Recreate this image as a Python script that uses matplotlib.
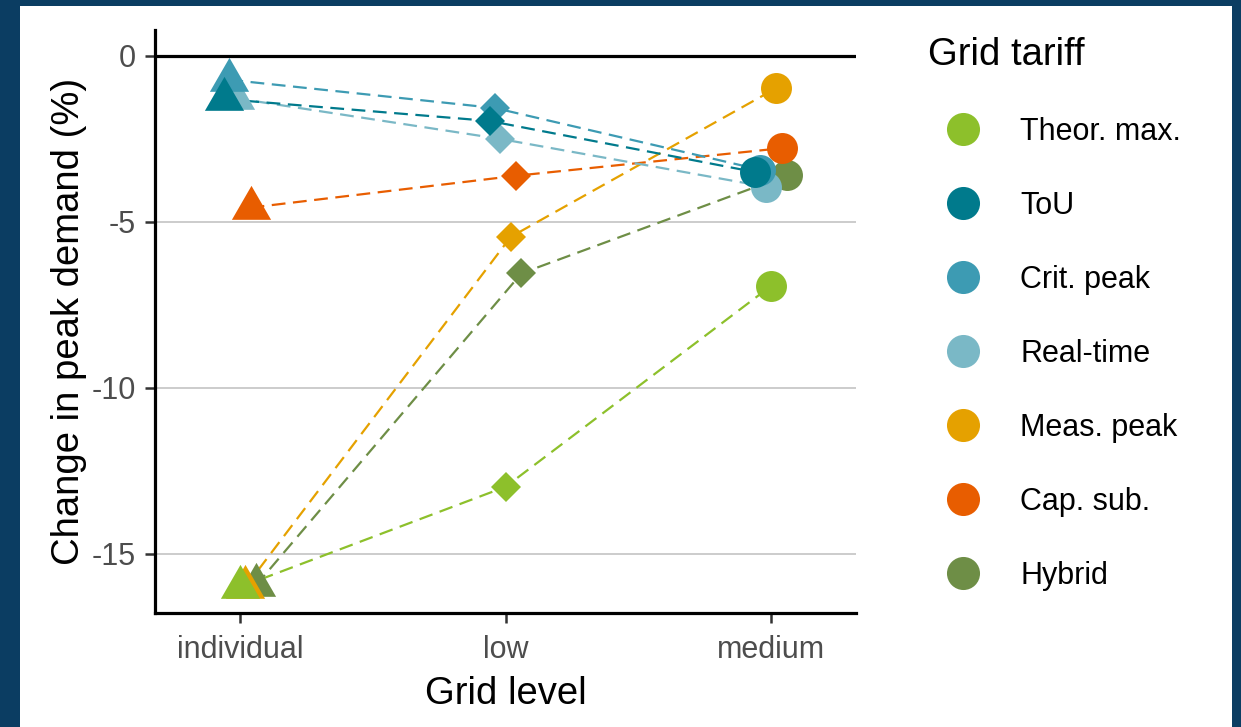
import matplotlib.pyplot as plt
import numpy as np
from matplotlib.lines import Line2D
from matplotlib.path import Path
from matplotlib.patches import Rectangle

plt.rcParams['font.family'] = ['Liberation Sans', 'DejaVu Sans']
plt.rcParams['axes.unicode_minus'] = False

# data
levels = ["individual", "low", "medium"]
tariffs = ["Theor. max.", "ToU", "Crit. peak", "Real-time", "Meas. peak", "Cap. sub.", "Hybrid"]
colors = ["#8DC02B", "#007A8C", "#3D9BB3", "#7AB8C6", "#E5A100", "#E85D00", "#6E8E46"]

theor_max = [-16.0, -12.98, -6.93]
tou = [-1.3, -1.96, -3.5]
crit_peak = [-0.72, -1.57, -3.43]
real_time = [-1.27, -2.5, -3.94]
meas_peak = [-16.0, -5.45, -0.97]
cap_sub = [-4.57, -3.61, -2.78]
hybrid = [-15.95, -6.55, -3.6]

series = [theor_max, tou, crit_peak, real_time, meas_peak, cap_sub, hybrid]
dodge_order = ["ToU", "Crit. peak", "Real-time", "Theor. max.", "Meas. peak", "Cap. sub.", "Hybrid"]
yticks = [0, -5, -10, -15]

# triangle centred on its centroid (like R's pch 17)
tri = Path([(0, 1), (-0.866, -0.5), (0.866, -0.5), (0, 1)],
           [Path.MOVETO, Path.LINETO, Path.LINETO, Path.CLOSEPOLY])
markers = [tri, "D", "o"]
msizes = [32.6, 14.8, 22.3]

W, H = 1241, 727
fig = plt.figure(figsize=(W / 100, H / 100), dpi=100)
fig.patch.set_facecolor("#0B3D62")
fig.add_artist(Rectangle((20 / W, 0), (1232 - 20) / W, (727 - 6) / H,
                         transform=fig.transFigure, facecolor="white",
                         edgecolor="none", zorder=0))

ax = fig.add_axes([155 / W, 1 - 613 / H, (856 - 155) / W, (613 - 30) / H])
ax.set_facecolor("white")

x = np.arange(len(levels))
# draw last tariff first so "Theor. max." ends up on top
for i in reversed(range(len(tariffs))):
    off = (dodge_order.index(tariffs[i]) - 3) * 0.02
    ax.plot(x + off, series[i], color=colors[i], lw=1.6, dashes=(6.2, 3.4), zorder=2)
for i in reversed(range(len(tariffs))):
    off = (dodge_order.index(tariffs[i]) - 3) * 0.02
    for j in range(len(levels)):
        ax.plot(x[j] + off, series[i][j], marker=markers[j], ms=msizes[j],
                color=colors[i], mew=0, ls="none", zorder=3)

# grid + zero line
for yt in yticks[1:]:
    ax.axhline(yt, color="#CCCCCC", lw=1.4, zorder=1)
ax.axhline(0, color="black", lw=2.3, zorder=1.5)

ax.set_xlim(-0.32, 2.32)
ax.set_ylim(-16.78, 0.78)
ax.set_xticks(x, levels)
ax.set_yticks(yticks)
ax.tick_params(length=7, width=1.8, color="#333333", labelsize=22,
               labelcolor="#4D4D4D")
ax.tick_params(axis="x", pad=8.5)
ax.tick_params(axis="y", pad=7)

for s in ["top", "right"]:
    ax.spines[s].set_visible(False)
for s in ["left", "bottom"]:
    ax.spines[s].set_linewidth(2.3)
    ax.spines[s].set_color("black")

ax.set_xlabel("Grid level", fontsize=27.5, labelpad=8)
ax.set_ylabel("Change in peak demand (%)", fontsize=27.5, labelpad=3.3)

handles = [Line2D([], [], marker="o", ls="none", color=c, ms=23.8, mew=0) for c in colors]
fig.legend(handles, tariffs, title="Grid tariff", loc="upper left",
           bbox_to_anchor=(928 / W, 1 - 37 / H), frameon=False, fontsize=22,
           title_fontsize=27.5, handlelength=2.3, handletextpad=0.72,
           labelspacing=1.44, borderpad=0, borderaxespad=0, alignment="left")

fig.savefig("out.png", dpi=100, facecolor=fig.get_facecolor())
